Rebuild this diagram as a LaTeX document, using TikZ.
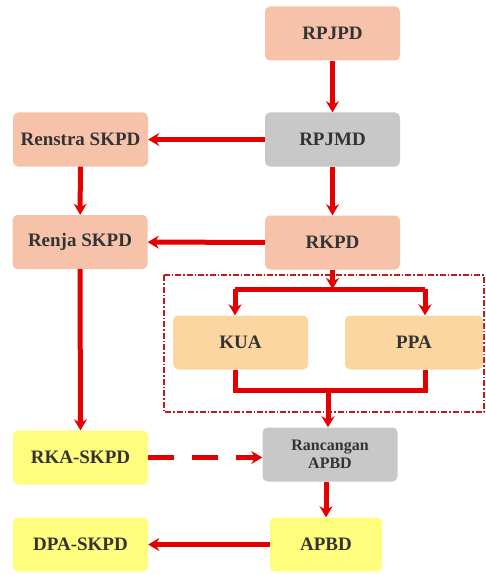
\documentclass[tikz,border=0pt]{standalone}
\usepackage{fontspec}
\setmainfont{Liberation Serif}
\usetikzlibrary{arrows.meta}
\definecolor{salmon}{RGB}{247,194,170}
\definecolor{greybox}{RGB}{200,200,200}
\definecolor{peach}{RGB}{251,214,160}
\definecolor{lemon}{RGB}{255,253,125}
\definecolor{redline}{RGB}{228,0,0}
\definecolor{frame}{RGB}{185,30,30}
\begin{document}
\begin{tikzpicture}[>={Stealth[length=11pt,width=13pt]},x=1pt,y=-1pt,
  box/.style={rounded corners=5pt,minimum width=135pt,minimum height=54pt,
    align=center,text=black!80,font=\fontsize{19}{21}\selectfont\bfseries},
  arr/.style={->,redline,line width=5pt},
  lin/.style={redline,line width=5pt}]
\useasboundingbox (0,0) rectangle (486,575);
% kotak dokumen perencanaan
\node[box,fill=salmon] (rpjpd) at (332.5,33.5) {RPJPD};
\node[box,fill=greybox] (rpjmd) at (332.5,139.5) {RPJMD};
\node[box,fill=salmon] (renstra) at (80.5,139.5) {Renstra SKPD};
\node[box,fill=salmon] (renja) at (80,242) {Renja SKPD};
\node[box,fill=salmon] (rkpd) at (332.5,242.5) {RKPD};
\draw[frame,line width=1.5pt,dash pattern=on 6pt off 2pt on 1.5pt off 2pt] (164,275) rectangle (484,412);
\node[box,fill=peach] (kua) at (240.5,342.5) {KUA};
\node[box,fill=peach,minimum width=138pt] (ppa) at (414,342.5) {PPA};
\node[box,fill=greybox,font=\fontsize{16}{18}\selectfont\bfseries] (rapbd) at (330,454.5) {Rancangan\\APBD};
\node[box,fill=lemon] (rka) at (80.5,457.5) {RKA-SKPD};
\node[box,fill=lemon,minimum width=112pt] (apbd) at (326,544.5) {APBD};
\node[box,fill=lemon] (dpa) at (80.5,544.5) {DPA-SKPD};
% titik cabang
\coordinate (split) at (332.5,289);
\coordinate (sL) at (235,289);
\coordinate (sR) at (425,289);
\coordinate (jL) at (235,390);
\coordinate (jR) at (425,390);
\coordinate (jM) at (328,390);
% panah
\draw[arr] (rpjpd) -- (rpjmd);
\draw[arr] (rpjmd) -- (renstra);
\draw[arr] (rpjmd) -- (rkpd);
\draw[arr] (renstra) -- (renja);
\draw[arr] (rkpd) -- (renja);
\draw[arr] (renja) -- (rka);
\draw[arr] (rkpd) -- (split);
\draw[lin] (sL) -- (sR);
\draw[arr] (sL) -- (sL |- kua.north);
\draw[arr] (sR) -- (sR |- ppa.north);
\draw[lin] (jL |- kua.south) -- (jL) -- (jR) -- (jR |- ppa.south);
\draw[arr] (jM) -- (jM |- rapbd.north);
\draw[arr,dash pattern=on 26pt off 18pt] (rka.east) -- (rka.east -| rapbd.west);
\draw[arr] (rapbd.south -| apbd.north) -- (apbd.north);
\draw[arr] (apbd) -- (dpa);
\end{tikzpicture}
\end{document}
